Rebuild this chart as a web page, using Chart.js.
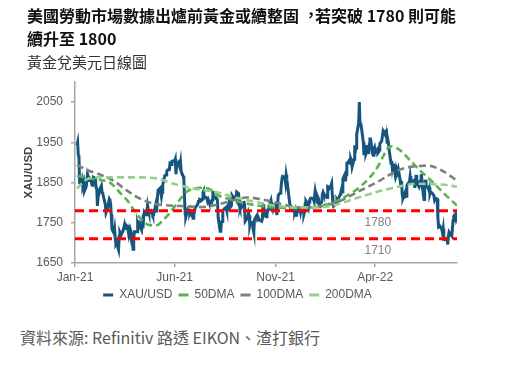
<!DOCTYPE html>
<html lang="zh-Hant-TW">
<head>
<meta charset="utf-8">
<script src="https://cdn.jsdelivr.net/npm/chart.js@4.4.1/dist/chart.umd.min.js"></script>
<style>
  html, body { margin: 0; padding: 0; background: #ffffff; }
  body { width: 510px; height: 380px; position: relative; overflow: hidden; }
  #title { position: absolute; left: 27px; top: 4px; font-family: "Noto Sans CJK TC", sans-serif; font-weight: bold; font-size: 16px; line-height: 23px; color: #111; white-space: nowrap; }
  #title .p { position: relative; left: 4px; top: -1px; }
  #subtitle { position: absolute; left: 27px; top: 51px; font-family: "Noto Sans CJK TC", sans-serif; font-size: 15px; line-height: 21px; color: #333; white-space: nowrap; }
  #source { position: absolute; left: 20px; top: 326px; font-family: "Noto Sans CJK TC", sans-serif; font-size: 16px; line-height: 22px; color: #595959; white-space: nowrap; }
  #chart { position: absolute; left: 0; top: 0; }
</style>
</head>
<body>
<canvas id="chart" width="510" height="311"></canvas>
<div id="title" lang="zh-TW">美國勞動市場數據出爐前黃金或續整固<span class="p">，</span>若突破 1780 則可能<br>續升至 1800</div>
<div id="subtitle" lang="zh-TW">黃金兌美元日線圖</div>
<div id="source" lang="zh-TW">資料來源: Refinitiv 路透 EIKON、渣打銀行</div>
<script>
// ---------------- DATA ----------------
const seriesNames = ["XAU/USD", "50DMA", "100DMA", "200DMA"];

const xTickDates = ["2021-01-01", "2021-06-01", "2021-11-01", "2022-04-01"];
const xTickLabels = ["Jan-21", "Jun-21", "Nov-21", "Apr-22"];
const xStartDate = "2021-01-01";
const xEndDate = "2022-08-03";

const yTicks = [1650, 1750, 1850, 1950, 2050];
const yMin = 1650;
const yMax = 2100;

const levelValues = [1780, 1710];
const levelLabels = ["1780", "1710"];
const levelLabelDate = "2022-04-05";

// XAU/USD daily close [date, price]
const xauDaily = [
["2021-01-04",1943],["2021-01-05",1950],["2021-01-06",1918],["2021-01-07",1913],["2021-01-08",1849],
["2021-01-11",1845],["2021-01-12",1855],["2021-01-13",1845],["2021-01-14",1851],["2021-01-15",1828],
["2021-01-18",1840],["2021-01-19",1840],["2021-01-20",1871],["2021-01-21",1866],["2021-01-22",1855],
["2021-01-25",1855],["2021-01-26",1850],["2021-01-27",1843],["2021-01-28",1844],["2021-01-29",1863],
["2021-02-01",1860],["2021-02-02",1837],["2021-02-03",1834],["2021-02-04",1792],["2021-02-05",1814],
["2021-02-08",1834],["2021-02-09",1838],["2021-02-10",1842],["2021-02-11",1826],["2021-02-12",1823],
["2021-02-16",1795],["2021-02-17",1775],["2021-02-18",1775],["2021-02-19",1784],
["2021-02-22",1809],["2021-02-23",1806],["2021-02-24",1797],["2021-02-25",1770],["2021-02-26",1734],
["2021-03-01",1724],["2021-03-02",1734],["2021-03-03",1712],["2021-03-04",1697],["2021-03-05",1700],
["2021-03-08",1683],["2021-03-09",1716],["2021-03-10",1726],["2021-03-11",1722],["2021-03-12",1720],
["2021-03-15",1731],["2021-03-16",1731],["2021-03-17",1745],["2021-03-18",1736],["2021-03-19",1745],
["2021-03-22",1739],["2021-03-23",1727],["2021-03-24",1734],["2021-03-25",1726],["2021-03-26",1732],
["2021-03-29",1712],["2021-03-30",1684],["2021-03-31",1708],
["2021-04-01",1728],["2021-04-05",1728],["2021-04-06",1744],["2021-04-07",1737],["2021-04-08",1756],["2021-04-09",1744],
["2021-04-12",1732],["2021-04-13",1746],["2021-04-14",1736],["2021-04-15",1764],["2021-04-16",1777],
["2021-04-19",1770],["2021-04-20",1779],["2021-04-21",1793],["2021-04-22",1784],["2021-04-23",1777],
["2021-04-26",1780],["2021-04-27",1777],["2021-04-28",1773],["2021-04-29",1768],["2021-04-30",1769],
["2021-05-03",1792],["2021-05-04",1779],["2021-05-05",1786],["2021-05-06",1815],["2021-05-07",1831],
["2021-05-10",1836],["2021-05-11",1836],["2021-05-12",1815],["2021-05-13",1826],["2021-05-14",1844],
["2021-05-17",1867],["2021-05-18",1868],["2021-05-19",1869],["2021-05-20",1877],["2021-05-21",1881],
["2021-05-24",1882],["2021-05-25",1898],["2021-05-26",1897],["2021-05-27",1895],["2021-05-28",1903],
["2021-05-31",1905],["2021-06-01",1903],["2021-06-02",1908],["2021-06-03",1871],["2021-06-04",1891],
["2021-06-07",1899],["2021-06-08",1893],["2021-06-09",1888],["2021-06-10",1899],["2021-06-11",1877],
["2021-06-14",1866],["2021-06-15",1859],["2021-06-16",1812],["2021-06-17",1773],["2021-06-18",1764],
["2021-06-21",1782],["2021-06-22",1779],["2021-06-23",1779],["2021-06-24",1776],["2021-06-25",1781],
["2021-06-28",1779],["2021-06-29",1761],["2021-06-30",1770],["2021-07-01",1777],["2021-07-02",1787],
["2021-07-06",1796],["2021-07-07",1803],["2021-07-08",1803],["2021-07-09",1808],
["2021-07-12",1806],["2021-07-13",1809],["2021-07-14",1825],["2021-07-15",1829],["2021-07-16",1812],
["2021-07-19",1813],["2021-07-20",1810],["2021-07-21",1803],["2021-07-22",1807],["2021-07-23",1802],
["2021-07-26",1798],["2021-07-27",1799],["2021-07-28",1807],["2021-07-29",1829],["2021-07-30",1814],
["2021-08-02",1813],["2021-08-03",1810],["2021-08-04",1813],["2021-08-05",1804],["2021-08-06",1763],
["2021-08-09",1729],["2021-08-10",1731],["2021-08-11",1752],["2021-08-12",1753],["2021-08-13",1780],
["2021-08-16",1786],["2021-08-17",1786],["2021-08-18",1788],["2021-08-19",1781],["2021-08-20",1781],
["2021-08-23",1805],["2021-08-24",1802],["2021-08-25",1790],["2021-08-26",1792],["2021-08-27",1818],
["2021-08-30",1810],["2021-08-31",1814],["2021-09-01",1814],["2021-09-02",1810],["2021-09-03",1827],
["2021-09-06",1823],["2021-09-07",1794],["2021-09-08",1788],["2021-09-09",1794],["2021-09-10",1787],
["2021-09-13",1793],["2021-09-14",1804],["2021-09-15",1794],["2021-09-16",1754],["2021-09-17",1754],
["2021-09-20",1764],["2021-09-21",1774],["2021-09-22",1768],["2021-09-23",1743],["2021-09-24",1750],
["2021-09-27",1751],["2021-09-28",1734],["2021-09-29",1726],["2021-09-30",1757],["2021-10-01",1761],
["2021-10-04",1769],["2021-10-05",1760],["2021-10-06",1762],["2021-10-07",1756],["2021-10-08",1757],
["2021-10-11",1754],["2021-10-12",1760],["2021-10-13",1793],["2021-10-14",1796],["2021-10-15",1768],
["2021-10-18",1765],["2021-10-19",1769],["2021-10-20",1782],["2021-10-21",1783],["2021-10-22",1793],
["2021-10-25",1806],["2021-10-26",1793],["2021-10-27",1798],["2021-10-28",1799],["2021-10-29",1783],
["2021-11-01",1794],["2021-11-02",1788],["2021-11-03",1769],["2021-11-04",1792],["2021-11-05",1818],
["2021-11-08",1824],["2021-11-09",1832],["2021-11-10",1849],["2021-11-11",1862],["2021-11-12",1865],
["2021-11-15",1863],["2021-11-16",1851],["2021-11-17",1869],["2021-11-18",1858],["2021-11-19",1846],
["2021-11-22",1805],["2021-11-23",1791],["2021-11-24",1788],["2021-11-25",1790],["2021-11-26",1788],
["2021-11-29",1785],["2021-11-30",1776],["2021-12-01",1781],["2021-12-02",1769],["2021-12-03",1783],
["2021-12-06",1779],["2021-12-07",1785],["2021-12-08",1783],["2021-12-09",1775],["2021-12-10",1783],
["2021-12-13",1787],["2021-12-14",1771],["2021-12-15",1777],["2021-12-16",1798],["2021-12-17",1804],
["2021-12-20",1795],["2021-12-21",1789],["2021-12-22",1802],["2021-12-23",1808],["2021-12-24",1811],
["2021-12-27",1811],["2021-12-28",1810],["2021-12-29",1805],["2021-12-30",1815],["2021-12-31",1829],
["2022-01-03",1801],["2022-01-04",1814],["2022-01-05",1810],["2022-01-06",1790],["2022-01-07",1797],
["2022-01-10",1801],["2022-01-11",1821],["2022-01-12",1826],["2022-01-13",1821],["2022-01-14",1817],
["2022-01-17",1819],["2022-01-18",1813],["2022-01-19",1840],["2022-01-20",1839],["2022-01-21",1835],
["2022-01-24",1843],["2022-01-25",1848],["2022-01-26",1819],["2022-01-27",1796],["2022-01-28",1791],
["2022-01-31",1797],["2022-02-01",1801],["2022-02-02",1807],["2022-02-03",1804],["2022-02-04",1808],
["2022-02-07",1821],["2022-02-08",1826],["2022-02-09",1833],["2022-02-10",1827],["2022-02-11",1859],
["2022-02-14",1870],["2022-02-15",1853],["2022-02-16",1870],["2022-02-17",1898],["2022-02-18",1898],
["2022-02-21",1906],["2022-02-22",1898],["2022-02-23",1909],["2022-02-24",1904],["2022-02-25",1889],
["2022-02-28",1908],["2022-03-01",1943],["2022-03-02",1928],["2022-03-03",1936],["2022-03-04",1970],
["2022-03-07",1998],["2022-03-08",2050],["2022-03-09",1993],["2022-03-10",1999],["2022-03-11",1988],
["2022-03-14",1951],["2022-03-15",1918],["2022-03-16",1928],["2022-03-17",1943],["2022-03-18",1921],
["2022-03-21",1935],["2022-03-22",1921],["2022-03-23",1944],["2022-03-24",1958],["2022-03-25",1958],
["2022-03-28",1922],["2022-03-29",1918],["2022-03-30",1933],["2022-03-31",1937],["2022-04-01",1925],
["2022-04-04",1932],["2022-04-05",1923],["2022-04-06",1925],["2022-04-07",1931],["2022-04-08",1946],
["2022-04-11",1954],["2022-04-12",1966],["2022-04-13",1978],["2022-04-14",1975],
["2022-04-18",1979],["2022-04-19",1950],["2022-04-20",1958],["2022-04-21",1950],["2022-04-22",1932],
["2022-04-25",1898],["2022-04-26",1904],["2022-04-27",1886],["2022-04-28",1895],["2022-04-29",1897],
["2022-05-02",1863],["2022-05-03",1868],["2022-05-04",1881],["2022-05-05",1876],["2022-05-06",1883],
["2022-05-09",1855],["2022-05-10",1839],["2022-05-11",1853],["2022-05-12",1821],["2022-05-13",1811],
["2022-05-16",1824],["2022-05-17",1815],["2022-05-18",1816],["2022-05-19",1842],["2022-05-20",1846],
["2022-05-23",1853],["2022-05-24",1866],["2022-05-25",1853],["2022-05-26",1851],["2022-05-27",1853],
["2022-05-30",1856],["2022-05-31",1837],["2022-06-01",1848],["2022-06-02",1869],["2022-06-03",1851],
["2022-06-06",1841],["2022-06-07",1852],["2022-06-08",1853],["2022-06-09",1848],["2022-06-10",1871],
["2022-06-13",1819],["2022-06-14",1808],["2022-06-15",1835],["2022-06-16",1857],["2022-06-17",1840],
["2022-06-20",1838],["2022-06-21",1833],["2022-06-22",1838],["2022-06-23",1822],["2022-06-24",1827],
["2022-06-27",1823],["2022-06-28",1820],["2022-06-29",1817],["2022-06-30",1807],["2022-07-01",1811],
["2022-07-04",1809],["2022-07-05",1764],["2022-07-06",1739],["2022-07-07",1740],["2022-07-08",1742],
["2022-07-11",1734],["2022-07-12",1725],["2022-07-13",1735],["2022-07-14",1709],["2022-07-15",1708],
["2022-07-18",1709],["2022-07-19",1711],["2022-07-20",1696],["2022-07-21",1718],["2022-07-22",1727],
["2022-07-25",1719],["2022-07-26",1717],["2022-07-27",1735],["2022-07-28",1755],["2022-07-29",1766],
["2022-08-01",1772],["2022-08-02",1760],["2022-08-03",1765]
];

// Moving averages [date, value]
const ma50 = [
["2021-01-04",1867],["2021-02-03",1857],["2021-02-23",1850],["2021-03-10",1825],["2021-03-21",1806],
["2021-03-30",1785],["2021-04-10",1761],["2021-04-25",1744],["2021-05-05",1744],["2021-05-14",1756],
["2021-05-25",1775],["2021-06-09",1808],["2021-06-20",1828],["2021-07-10",1837],["2021-07-25",1833],
["2021-08-04",1820],["2021-08-29",1806],["2021-10-04",1793],["2021-10-24",1789],["2021-11-27",1786],
["2022-01-16",1795],["2022-02-25",1825],["2022-03-24",1863],["2022-04-08",1898],["2022-04-13",1915],
["2022-04-24",1940],["2022-05-09",1930],["2022-05-24",1905],["2022-06-08",1880],["2022-06-28",1850],
["2022-07-16",1820],["2022-08-03",1793]
];
const ma100 = [
["2021-01-04",1894],["2021-01-21",1880],["2021-02-08",1870],["2021-02-28",1855],["2021-03-21",1830],
["2021-04-05",1814],["2021-04-29",1798],["2021-05-25",1793],["2021-06-20",1791],["2021-07-10",1789],
["2021-08-04",1795],["2021-08-29",1806],["2021-09-18",1813],["2021-10-18",1806],["2021-11-02",1800],
["2021-12-12",1787],["2022-01-31",1800],["2022-03-07",1828],["2022-04-08",1855],["2022-04-16",1863],
["2022-05-12",1884],["2022-06-20",1892],["2022-07-11",1880],["2022-08-03",1855]
];
const ma200 = [
["2021-01-04",1835],["2021-01-19",1858],["2021-02-08",1863],["2021-03-30",1863],["2021-05-05",1860],
["2021-05-30",1847],["2021-06-29",1835],["2021-08-04",1826],["2021-08-29",1814],["2021-10-04",1801],
["2021-10-24",1795],["2021-11-27",1788],["2022-01-16",1790],["2022-03-05",1812],["2022-04-11",1830],
["2022-04-24",1835],["2022-06-03",1847],["2022-07-11",1845],["2022-08-03",1840]
];

// ---------------- BUILD ----------------
function dayIndex(s) {
  const p = s.split("-").map(Number);
  return Math.round((Date.UTC(p[0], p[1] - 1, p[2]) - Date.UTC(2021, 0, 1)) / 86400000);
}
const toPts = arr => arr.map(([d, v]) => ({ x: dayIndex(d), y: v }));
const xMin = dayIndex(xStartDate);
const xMax = dayIndex(xEndDate);
const xTickDays = xTickDates.map(dayIndex);

const FONT = "'Liberation Sans', Arial, sans-serif";
const AXIS = "#a6a6a6";
const TXT = "#595959";

const levelLabelPlugin = {
  id: "levelLabels",
  afterDatasetsDraw(chart) {
    const { ctx, scales: { x, y } } = chart;
    ctx.save();
    ctx.fillStyle = "#7f7f7f";
    ctx.font = "12px " + FONT;
    ctx.textAlign = "center";
    ctx.textBaseline = "middle";
    levelValues.forEach((v, i) => {
      ctx.fillText(levelLabels[i], x.getPixelForValue(dayIndex(levelLabelDate)), y.getPixelForValue(v) + 12);
    });
    ctx.restore();
  }
};

const lineColors = ["#17557f", "#5cb153", "#7f7f7f", "#92d18a"];

const datasets = [
  { label: seriesNames[0], data: toPts(xauDaily), borderColor: lineColors[0], borderWidth: 3, pointRadius: 0, tension: 0, order: 5 },
  { label: seriesNames[1], data: toPts(ma50), borderColor: lineColors[1], borderWidth: 2.6, borderDash: [7, 4], pointRadius: 0, cubicInterpolationMode: "monotone", order: 4 },
  { label: seriesNames[2], data: toPts(ma100), borderColor: lineColors[2], borderWidth: 2.6, borderDash: [7, 4], pointRadius: 0, cubicInterpolationMode: "monotone", order: 3 },
  { label: seriesNames[3], data: toPts(ma200), borderColor: lineColors[3], borderWidth: 2.6, borderDash: [7, 4], pointRadius: 0, cubicInterpolationMode: "monotone", order: 2 }
];
levelValues.forEach((v, i) => {
  datasets.push({ label: "level" + levelLabels[i], isLevel: true, data: [{ x: xMin, y: v }, { x: xMax, y: v }],
    borderColor: "#ff0000", borderWidth: 3, borderDash: [9, 5], pointRadius: 0, order: 1 });
});

new Chart(document.getElementById("chart"), {
  type: "line",
  data: { datasets },
  options: {
    responsive: false,
    animation: false,
    events: [],
    layout: { padding: { left: 18, right: 53, top: 82, bottom: 0 } },
    plugins: {
      tooltip: { enabled: false },
      legend: {
        position: "bottom",
        labels: {
          boxWidth: 10, boxHeight: 3, padding: 6, color: TXT,
          font: { size: 12, family: FONT },
          generateLabels(chart) {
            return chart.data.datasets.map((ds, i) => ({ ds, i })).filter(o => !o.ds.isLevel).map(o => ({
              text: o.ds.label, fillStyle: o.ds.borderColor, strokeStyle: o.ds.borderColor,
              lineWidth: 0, lineDash: [], hidden: false, datasetIndex: o.i, fontColor: TXT
            }));
          }
        }
      }
    },
    scales: {
      x: {
        type: "linear", min: xMin, max: xMax,
        afterBuildTicks: s => { s.ticks = xTickDays.map(v => ({ value: v })); },
        afterFit: s => { s.height = 20; },
        ticks: { autoSkip: false, maxRotation: 0, padding: 3, color: TXT, font: { size: 12, family: FONT },
          callback: v => xTickLabels[xTickDays.indexOf(v)] },
        grid: { drawOnChartArea: false, drawTicks: true, tickLength: 4, color: AXIS, lineWidth: 1.5 },
        border: { color: AXIS, width: 1.5 }
      },
      y: {
        min: yMin, max: yMax,
        afterBuildTicks: s => { s.ticks = yTicks.map(v => ({ value: v })); },
        afterFit: s => { s.width = 57; },
        ticks: { padding: 8, color: TXT, font: { size: 12, family: FONT }, callback: v => String(v) },
        grid: { drawOnChartArea: false, drawTicks: true, tickLength: 4, color: AXIS, lineWidth: 1.5 },
        border: { color: AXIS, width: 1.5 },
        title: { display: true, text: "XAU/USD", color: "#404040", font: { size: 11.5, weight: "bold", family: FONT }, padding: { top: 4, bottom: 0 } }
      }
    }
  },
  plugins: [levelLabelPlugin]
});
</script>
</body>
</html>
